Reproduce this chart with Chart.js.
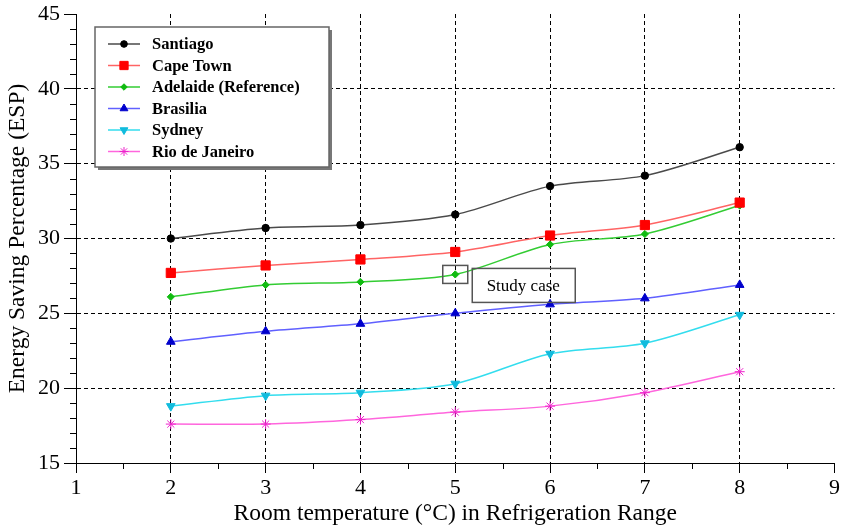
<!DOCTYPE html>
<html>
<head>
<meta charset="utf-8">
<script src="https://cdn.jsdelivr.net/npm/chart.js@4/dist/chart.umd.min.js"></script>
<style>
  html, body { margin: 0; padding: 0; background: #fff; }
  #wrap { width: 842px; height: 526px; }
</style>
</head>
<body>
<div id="wrap"><canvas id="chart" width="842" height="526"></canvas></div>
<script>
// data
const roomTemp = [2, 3, 4, 5, 6, 7, 8];

const santiago = [30.0, 30.7, 30.9, 31.6, 33.5, 34.2, 36.1];
const capeTown = [27.7, 28.2, 28.6, 29.1, 30.2, 30.9, 32.4];
const adelaide = [26.1, 26.9, 27.1, 27.6, 29.6, 30.3, 32.2];
const brasilia = [23.1, 23.8, 24.3, 25.0, 25.6, 26.0, 26.9];
const sydney   = [18.8, 19.5, 19.7, 20.3, 22.3, 23.0, 24.9];
const rio      = [17.6, 17.6, 17.9, 18.4, 18.8, 19.7, 21.1];

const cityNames = ['Santiago', 'Cape Town', 'Adelaide (Reference)', 'Brasilia', 'Sydney', 'Rio de Janeiro'];
const studyCaseIndex = 3;   // Adelaide at 5 °C

const serif = "'Liberation Serif', 'DejaVu Serif', serif";

function pts(arr){
  return arr.map((v, i) => ({ x: roomTemp[i], y: v }));
}

const series = [
  { label: cityNames[0], data: pts(santiago), borderColor: '#4a4a4a', pointBackgroundColor: '#000000', pointBorderColor: '#000000', pointStyle: 'circle', pointRadius: 3.7, pointRotation: 0 },
  { label: cityNames[1], data: pts(capeTown), borderColor: '#ff6464', pointBackgroundColor: '#ff0000', pointBorderColor: '#ff0000', pointStyle: 'rect', pointRadius: 6.5, pointRotation: 0 },
  { label: cityNames[2], data: pts(adelaide), borderColor: '#33cc33', pointBackgroundColor: '#11bb11', pointBorderColor: '#11bb11', pointStyle: 'rectRot', pointRadius: 3.6, pointRotation: 0 },
  { label: cityNames[3], data: pts(brasilia), borderColor: '#6060ff', pointBackgroundColor: '#0000cc', pointBorderColor: '#0000cc', pointStyle: 'triangle', pointRadius: 5, pointRotation: 0 },
  { label: cityNames[4], data: pts(sydney),   borderColor: '#33ddee', pointBackgroundColor: '#11bbdd', pointBorderColor: '#11bbdd', pointStyle: 'triangle', pointRadius: 5, pointRotation: 180 },
  { label: cityNames[5], data: pts(rio),      borderColor: '#ff66dd', pointBackgroundColor: '#ee22cc', pointBorderColor: '#ee22cc', pointStyle: 'star', pointRadius: 5, pointRotation: 0 }
];

// minor ticks + legend box + study case marker
const extras = {
  id: 'extras',
  afterDraw(chart){
    const ctx = chart.ctx;
    const xs = chart.scales.x, ys = chart.scales.y;
    const area = chart.chartArea;

    ctx.save();
    ctx.strokeStyle = '#000';
    ctx.lineWidth = 1;
    ctx.beginPath();
    for (let v = 16; v < 45; v++) {
      if (v % 5 === 0) continue;
      const y = Math.round(ys.getPixelForValue(v)) + 0.5;
      ctx.moveTo(area.left - 6, y);
      ctx.lineTo(area.left, y);
    }
    for (let v = 1.5; v < 9; v += 1) {
      const x = Math.round(xs.getPixelForValue(v)) + 0.5;
      ctx.moveTo(x, area.bottom);
      ctx.lineTo(x, area.bottom + 6);
    }
    ctx.stroke();

    // study case
    const sx = xs.getPixelForValue(roomTemp[studyCaseIndex]);
    const sy = ys.getPixelForValue(adelaide[studyCaseIndex]);
    ctx.strokeStyle = '#555';
    ctx.lineWidth = 1.5;
    ctx.strokeRect(sx - 12.5, sy - 9, 25, 18);
    ctx.strokeRect(sx + 17, sy - 6, 103, 34);
    ctx.fillStyle = '#000';
    ctx.font = '17px ' + serif;
    ctx.textAlign = 'center';
    ctx.textBaseline = 'middle';
    ctx.fillText('Study case', sx + 68, sy + 12);

    // legend
    const lx = area.left + 19, ly = area.top + 13, lw = 234, lh = 140;
    ctx.fillStyle = '#777';
    ctx.fillRect(lx + 3, ly + 3, lw, lh);
    ctx.fillStyle = '#fff';
    ctx.fillRect(lx, ly, lw, lh);
    ctx.strokeStyle = '#666';
    ctx.lineWidth = 1.5;
    ctx.strokeRect(lx, ly, lw, lh);

    ctx.font = 'bold 16.5px ' + serif;
    ctx.textAlign = 'left';
    series.forEach((s, i) => {
      const y = ly + 17 + i * 21.5;
      ctx.strokeStyle = s.borderColor;
      ctx.lineWidth = 1.5;
      ctx.beginPath();
      ctx.moveTo(lx + 13, y);
      ctx.lineTo(lx + 45, y);
      ctx.stroke();
      ctx.fillStyle = s.pointBackgroundColor;
      ctx.strokeStyle = s.pointBorderColor;
      ctx.lineWidth = 1;
      Chart.helpers.drawPoint(ctx, {
        pointStyle: s.pointStyle,
        radius: s.pointRadius * 0.9,
        rotation: s.pointRotation,
        borderWidth: 1
      }, lx + 29, y);
      ctx.fillStyle = '#000';
      ctx.fillText(s.label, lx + 57, y + 1);
    });
    ctx.restore();
  }
};

const edgeHidden = (lo, hi) => c => (c.tick && (c.tick.value === lo || c.tick.value === hi)) ? 'rgba(0,0,0,0)' : '#000';

new Chart(document.getElementById('chart'), {
  type: 'line',
  data: {
    datasets: series.map(s => ({
      label: s.label,
      data: s.data,
      borderColor: s.borderColor,
      borderWidth: 1.5,
      backgroundColor: s.pointBackgroundColor,
      pointBackgroundColor: s.pointBackgroundColor,
      pointBorderColor: s.pointBorderColor,
      pointStyle: s.pointStyle,
      pointRadius: s.pointRadius,
      pointRotation: s.pointRotation,
      pointBorderWidth: 1,
      tension: 0.3,
      fill: false
    }))
  },
  options: {
    responsive: false,
    animation: false,
    layout: { padding: { top: 14, right: 4, left: 0, bottom: 0 } },
    plugins: {
      legend: { display: false },
      tooltip: { enabled: false }
    },
    scales: {
      x: {
        type: 'linear',
        min: 1,
        max: 9,
        afterFit: s => { s.height = 63; s.paddingLeft = 0; s.paddingRight = 0; },
        ticks: { stepSize: 1, color: '#000', font: { family: serif, size: 22, lineHeight: 1 }, padding: 4 },
        grid: { color: edgeHidden(1, 9), tickColor: '#000', tickLength: 10, lineWidth: 1 },
        border: { display: true, color: '#000', width: 1, dash: [4, 3] },
        title: { display: true, text: 'Room temperature (°C) in Refrigeration Range', color: '#000', font: { family: serif, size: 23.5 }, padding: { top: 0, bottom: -2 } }
      },
      y: {
        min: 15,
        max: 45,
        afterFit: s => { s.width = 76; s.paddingTop = 0; s.paddingBottom = 0; },
        ticks: { stepSize: 5, color: '#000', font: { family: serif, size: 22, lineHeight: 1 }, padding: 4 },
        grid: { color: edgeHidden(15, 45), tickColor: '#000', tickLength: 12, lineWidth: 1 },
        border: { display: true, color: '#000', width: 1, dash: [4, 3] },
        title: { display: true, text: 'Energy Saving Percentage (ESP)', color: '#000', font: { family: serif, size: 23.5 }, padding: { bottom: 0 } }
      }
    }
  },
  plugins: [extras]
});
</script>
</body>
</html>
